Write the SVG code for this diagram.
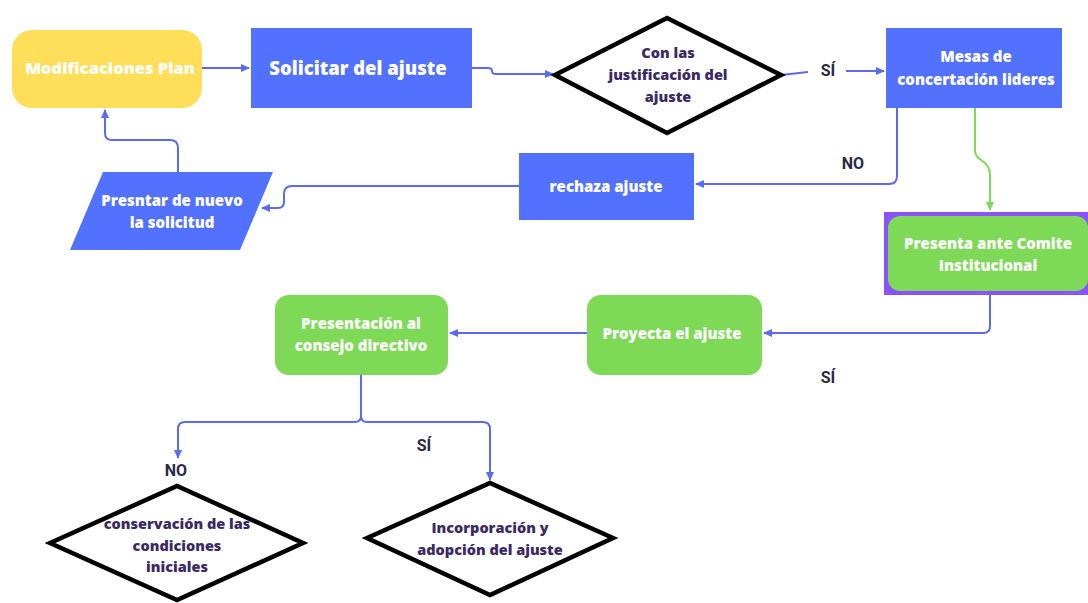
<svg xmlns="http://www.w3.org/2000/svg" width="1088" height="603" viewBox="0 0 1088 603">
<defs>
<style>
.blue{fill:#5271FF}
.green{fill:#7ED957}
.yellow{fill:#FFDE59}
.dia{fill:#FFFFFF;stroke:#000000;stroke-width:4.5;stroke-linejoin:miter}
.wt{font-family:"Open Sans",Lato,sans-serif;font-weight:800;fill:#FFFFFF;text-anchor:middle}
.dt{font-family:"Open Sans",Lato,sans-serif;font-weight:800;fill:#3B2A63;text-anchor:middle;font-size:14.5px}
.lbl{font-family:Roboto,"Liberation Sans",sans-serif;font-weight:700;fill:#2B2A45;font-size:16px;text-anchor:middle}
.c{fill:none;stroke:#5B6BF0;stroke-width:2}
.cg{fill:none;stroke:#7ED957;stroke-width:2}
</style>
<marker id="ab" viewBox="0 0 10 10" refX="8" refY="5" markerWidth="5" markerHeight="5" orient="auto"><path d="M0,1 L9,5 L0,9 z" fill="#5B6BF0"/></marker>
<marker id="ag" viewBox="0 0 10 10" refX="8" refY="5" markerWidth="5" markerHeight="5" orient="auto"><path d="M0,1 L9,5 L0,9 z" fill="#7ED957"/></marker>
</defs>
<rect width="1088" height="603" fill="#FFFFFF"/>
<g id="connectors">
<path class="c" d="M202,68 L249,68" marker-end="url(#ab)"/>
<path class="c" d="M472,68 L488,68 Q492,68 492,71 Q492,74 496,74 L553,74" marker-end="url(#ab)"/>
<path class="c" d="M781,75 L808,72"/>
<path class="c" d="M846,71 L884,71" marker-end="url(#ab)"/>
<path class="c" d="M897,108 L897,176 Q897,184 889,184 L696,184" marker-end="url(#ab)"/>
<path class="cg" d="M975,108 L975,150 Q975,156 981,160 Q990,166 990,174 L990,210" marker-end="url(#ag)"/>
<path class="c" d="M519,186 L292,186 Q284,186 284,194 L284,202 Q284,208 278,208 L262,208" marker-end="url(#ab)"/>
<path class="c" d="M178,172 L178,148 Q178,140 170,140 L112,140 Q105,140 105,133 L105,110" marker-end="url(#ab)"/>
<path class="c" d="M990,295 L990,326 Q990,333 983,333 L764,333" marker-end="url(#ab)"/>
<path class="c" d="M587,333 L450,333" marker-end="url(#ab)"/>
<path class="c" d="M361,375 L361,416 Q361,422 355,422 L185,422 Q178,422 178,429 L178,458" marker-end="url(#ab)"/>
<path class="c" d="M361,416 Q361,422 367,422 L483,422 Q490,422 490,429 L490,480" marker-end="url(#ab)"/>
</g>
<g id="n-modificaciones">
<rect class="yellow" x="12" y="30" width="190" height="78" rx="20"/>
<text class="wt" x="110" y="74" font-size="16.5">Modificaciones Plan</text>
</g>
<g id="n-solicitar">
<rect class="blue" x="251" y="28" width="221" height="80"/>
<text class="wt" x="358" y="75" font-size="18.5">Solicitar del ajuste</text>
</g>
<g id="n-justificacion">
<polygon class="dia" points="555,75 667,18 781,75 667,133"/>
<text class="dt" x="668" y="58">Con las</text>
<text class="dt" x="668" y="80">justificación del</text>
<text class="dt" x="668" y="102">ajuste</text>
</g>
<g id="l-si1"><text class="lbl" x="828" y="76">SÍ</text></g>
<g id="n-mesas">
<rect class="blue" x="886" y="28" width="176" height="80"/>
<text class="wt" x="976" y="62" font-size="15">Mesas de</text>
<text class="wt" x="976" y="85" font-size="15">concertación lideres</text>
</g>
<g id="l-no1"><text class="lbl" x="853" y="169">NO</text></g>
<g id="n-rechaza">
<rect class="blue" x="519" y="153" width="175" height="67"/>
<text class="wt" x="606" y="192" font-size="15">rechaza ajuste</text>
</g>
<g id="n-presntar">
<polygon class="blue" points="103,172 273,172 240,250 70,250"/>
<text class="wt" x="172" y="206" font-size="15">Presntar de nuevo</text>
<text class="wt" x="172" y="228" font-size="15">la solicitud</text>
</g>
<g id="n-comite">
<rect x="884" y="212" width="204" height="83" fill="#8C52FF"/>
<rect class="green" x="888" y="216" width="200" height="75" rx="12"/>
<text class="wt" x="988" y="249" font-size="15">Presenta ante Comite</text>
<text class="wt" x="988" y="271" font-size="15">Institucional</text>
</g>
<g id="l-si2"><text class="lbl" x="828" y="383">SÍ</text></g>
<g id="n-proyecta">
<rect class="green" x="587" y="295" width="175" height="80" rx="14"/>
<text class="wt" x="672" y="339" font-size="15">Proyecta el ajuste</text>
</g>
<g id="n-consejo">
<rect class="green" x="275" y="295" width="173" height="80" rx="14"/>
<text class="wt" x="361" y="329" font-size="15">Presentación al</text>
<text class="wt" x="361" y="351" font-size="15">consejo directivo</text>
</g>
<g id="l-no2"><text class="lbl" x="176" y="476">NO</text></g>
<g id="l-si3"><text class="lbl" x="424" y="451">SÍ</text></g>
<g id="n-conservacion">
<polygon class="dia" points="50,543 177,486 303,543 177,600"/>
<text class="dt" x="177" y="529">conservación de las</text>
<text class="dt" x="177" y="551">condiciones</text>
<text class="dt" x="177" y="572">iniciales</text>
</g>
<g id="n-incorporacion">
<polygon class="dia" points="367,538 490,483 613,538 490,595"/>
<text class="dt" x="490" y="533">Incorporación y</text>
<text class="dt" x="490" y="555">adopción del ajuste</text>
</g>
</svg>
